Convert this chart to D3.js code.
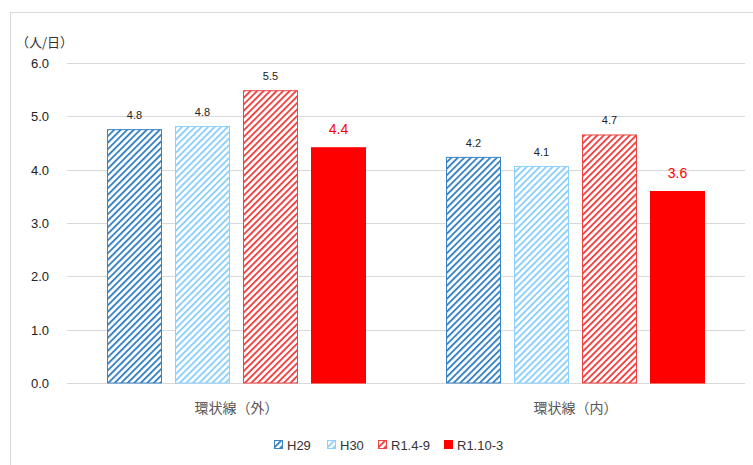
<!DOCTYPE html>
<html><head><meta charset="utf-8">
<script src="https://cdn.jsdelivr.net/npm/d3@7"></script>
<style>body{margin:0;background:#fff}svg{display:block}</style>
</head><body>
<script>
const categories = ["環状線（外）", "環状線（内）"];
const seriesNames = ["H29", "H30", "R1.4-9", "R1.10-3"];
const valuesH29 = [4.76, 4.24];
const valuesH30 = [4.82, 4.07];
const valuesR149 = [5.49, 4.66];
const valuesR1103 = [4.42, 3.60];
const yTicks = [0, 1, 2, 3, 4, 5, 6];
const yUnit = "（人/日）";

const seriesValues = [valuesH29, valuesH30, valuesR149, valuesR1103];
const colors = ["#3a84c4", "#8ed0fb", "#ee4444", "#ff0000"];
const hatched = [true, true, true, false];

const W = 753, H = 465;
const svg = d3.select("body").append("svg").attr("width", W).attr("height", H);
const defs = svg.append("defs");
colors.forEach((c, i) => {
  if (!hatched[i]) return;
  const p = defs.append("pattern").attr("id", "pat" + i)
    .attr("patternUnits", "userSpaceOnUse").attr("width", 4.6).attr("height", 4.6)
    .attr("patternTransform", "rotate(45)");
  p.append("rect").attr("width", 4.6).attr("height", 4.6).attr("fill", "#fff");
  p.append("rect").attr("x", 0).attr("width", 1.9).attr("height", 4.6).attr("fill", c);
});

// chart border
svg.append("rect").attr("x", 10.5).attr("y", 12.5).attr("width", 800).attr("height", 600)
  .attr("fill", "none").attr("stroke", "#d9d9d9");

const plot = {l: 67, r: 745, t: 63, b: 383};
const y = d3.scaleLinear().domain([0, 6]).range([plot.b, plot.t]);
const x0 = d3.scaleBand().domain(categories).range([plot.l, plot.r]).paddingInner(0).paddingOuter(0);
const x1 = d3.scaleBand().domain(seriesNames).range([40, x0.bandwidth() - 40]).paddingInner(13/68).paddingOuter(0);

// gridlines
svg.append("g").selectAll("line").data(yTicks).join("line")
  .attr("x1", plot.l).attr("x2", plot.r)
  .attr("y1", d => Math.round(y(d)) + 0.5).attr("y2", d => Math.round(y(d)) + 0.5)
  .attr("stroke", "#d9d9d9").attr("stroke-width", 1);

// y tick labels
const yAxis = d3.axisLeft(y).tickValues(yTicks).tickFormat(d3.format(".1f")).tickSize(0).tickPadding(0);
const ga = svg.append("g").attr("transform", `translate(49,0)`).call(yAxis);
ga.select(".domain").remove();
ga.selectAll("text").attr("font-family", "'Liberation Sans', Arial, sans-serif")
  .attr("font-size", 13).attr("fill", "#222").attr("dy", "0.35em");

svg.append("text").attr("x", 16).attr("y", 47).text(yUnit)
  .attr("font-family", "'Noto Sans CJK JP', sans-serif").attr("font-size", 13).attr("fill", "#333");

// bars
const groups = svg.append("g").selectAll("g").data(categories).join("g")
  .attr("transform", d => `translate(${x0(d)},0)`);
groups.each(function(cat, ci) {
  const g = d3.select(this);
  seriesNames.forEach((s, si) => {
    const v = seriesValues[si][ci];
    const bx = x1(s), bw = x1.bandwidth();
    g.append("rect").attr("x", bx + 0.5).attr("y", y(v) + 0.5)
      .attr("width", bw - 1).attr("height", y(0) - y(v) - 0.5)
      .attr("fill", hatched[si] ? `url(#pat${si})` : colors[si])
      .attr("stroke", colors[si]).attr("stroke-width", 1);
    const red = si === 3;
    g.append("text").attr("x", bx + bw / 2).attr("y", y(v) - (red ? 13 : 10))
      .attr("text-anchor", "middle")
      .attr("font-family", "'Liberation Sans', Arial, sans-serif")
      .attr("font-size", red ? 14 : 11)
      .attr("fill", red ? "#ff0000" : "#222")
      .text(d3.format(".1f")(v));
  });
});

// category labels
svg.append("g").selectAll("text").data(categories).join("text")
  .attr("x", d => x0(d) + x0.bandwidth() / 2).attr("y", 413)
  .attr("text-anchor", "middle")
  .attr("font-family", "'Noto Sans CJK JP', sans-serif").attr("font-size", 14).attr("fill", "#555")
  .text(d => d);

// legend
const legX = [274, 327, 378, 444];
const leg = svg.append("g").selectAll("g").data(seriesNames).join("g")
  .attr("transform", (d, i) => `translate(${legX[i]},440)`);
leg.append("rect").attr("x", 0.5).attr("y", 0.5).attr("width", 8).attr("height", 8)
  .attr("fill", (d, i) => hatched[i] ? `url(#pat${i})` : colors[i])
  .attr("stroke", (d, i) => colors[i]);
leg.append("text").attr("x", 13).attr("y", 9.5).text(d => d)
  .attr("font-family", "'Liberation Sans', Arial, sans-serif").attr("font-size", 13).attr("fill", "#333");
</script>
</body></html>
